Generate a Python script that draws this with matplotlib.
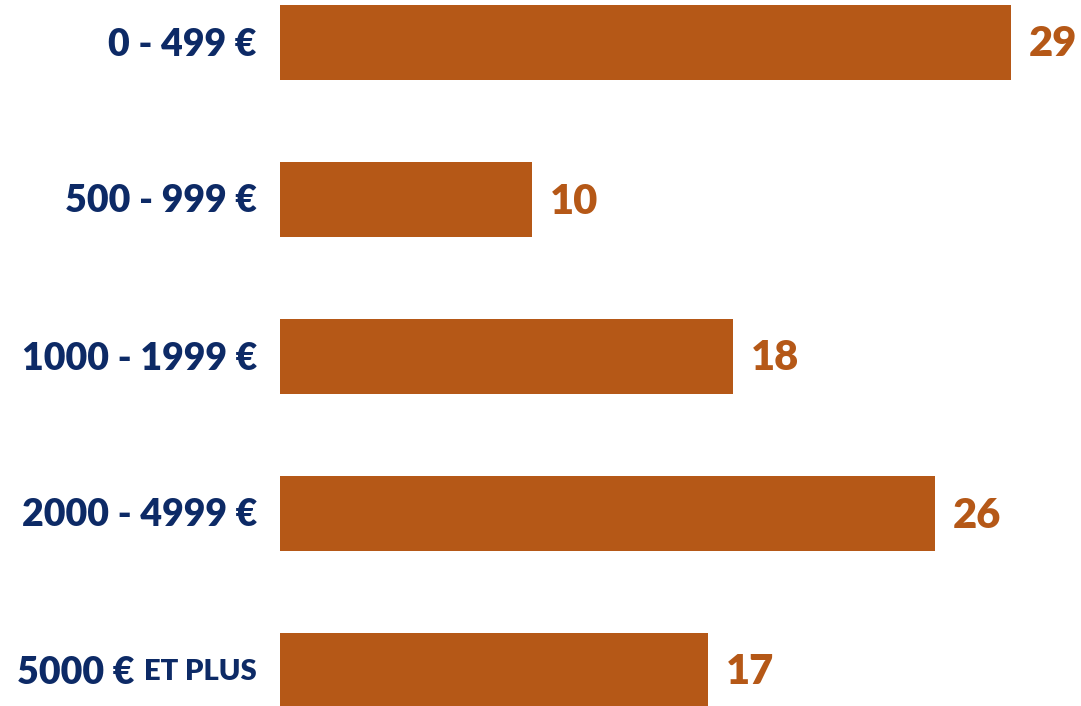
import matplotlib
matplotlib.use("Agg")
import matplotlib.pyplot as plt

categories = ["0 - 499 €", "500 - 999 €", "1000 - 1999 €", "2000 - 4999 €", "5000 €"]
last_suffix = "ET PLUS"
values = [29, 10, 18, 26, 17]

BAR = "#B55817"
NAVY = "#0D2A66"
FONT = "Lato"
WEIGHT = "heavy"

W, H, DPI = 1081, 706, 100
fig = plt.figure(figsize=(W / DPI, H / DPI), dpi=DPI)
x0 = 279 / W
ax = fig.add_axes([x0, 0, 1 - x0, 1])
ppu = 25.2  # pixels per unit
ax.set_xlim(0, (W - 279) / ppu)
spacing = 157.0
ax.set_ylim((H - 42.5) / spacing, -42.5 / spacing)
ax.axis("off")

ypos = list(range(len(values)))
ax.barh(ypos, values, height=75 / spacing, color=BAR, left=0.03)

pt = 72 / DPI
for y, v in zip(ypos, values):
    ax.annotate(str(v), xy=(v + 0.03, y), xytext=(18 * pt, -2 * pt), textcoords="offset points",
                ha="left", va="center", color=BAR, fontsize=30, fontweight=WEIGHT, family=FONT)

fig.canvas.draw()
renderer = fig.canvas.get_renderer()
label_off = -22 * pt
for i, (y, c) in enumerate(zip(ypos, categories)):
    if i == len(categories) - 1:
        t = ax.annotate(last_suffix, xy=(0, y), xytext=(label_off, -1 * pt), textcoords="offset points",
                        ha="right", va="center", color=NAVY, fontsize=21, fontweight=WEIGHT, family=FONT)
        bb = t.get_window_extent(renderer)
        wpts = (bb.width + 10) * pt
        ax.annotate(c, xy=(0, y), xytext=(label_off - wpts, -2 * pt), textcoords="offset points",
                    ha="right", va="center", color=NAVY, fontsize=27, fontweight=WEIGHT, family=FONT)
    else:
        ax.annotate(c, xy=(0, y), xytext=(label_off, -2 * pt), textcoords="offset points",
                    ha="right", va="center", color=NAVY, fontsize=27, fontweight=WEIGHT, family=FONT)

fig.savefig("out.png", dpi=DPI, facecolor="white")
